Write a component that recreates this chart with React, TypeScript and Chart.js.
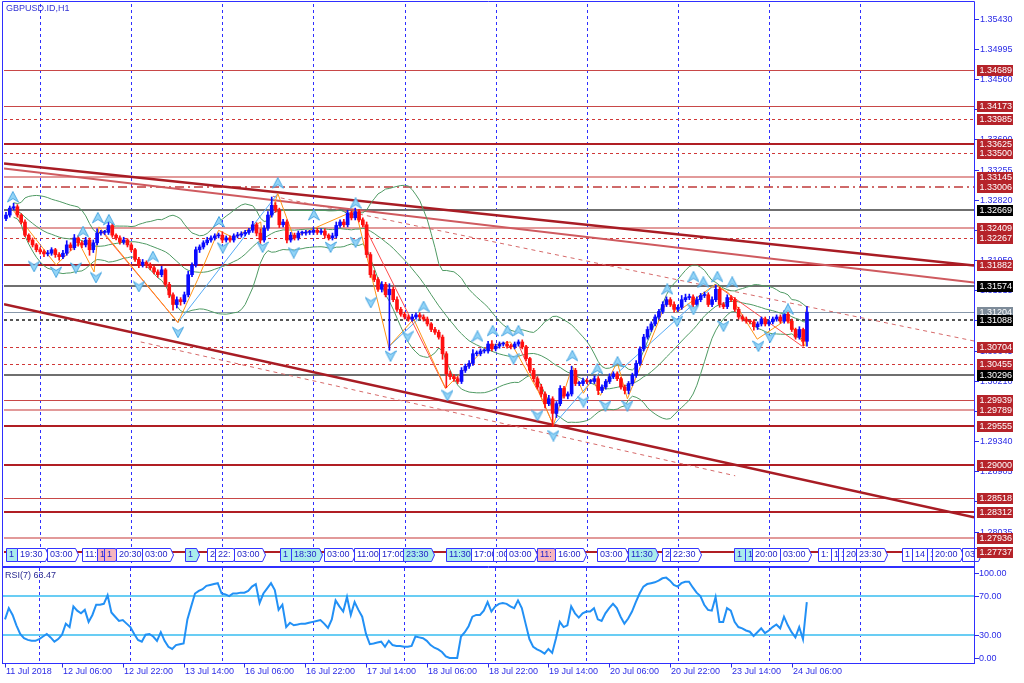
import React, { useEffect, useRef } from "react";
import { Chart, registerables } from "chart.js";

Chart.register(...registerables);

// ---------------- DATA ----------------
const symbolLabel = "GBPUSD.ID,H1";
const rsiLabel = "RSI(7) 63.47";
const BASE_PRICE = 1.3; // closes etc. are in pips above 1.30000
const FIRST_OPEN = 255;

const closes = [
  260, 270, 272, 260, 250, 231, 224, 217, 210, 207,
  204, 205, 210, 203, 200, 205, 217, 213, 227, 220,
  217, 224, 210, 220, 234, 235, 235, 245, 231, 227,
  221, 224, 217, 210, 196, 188, 192, 188, 184, 178,
  174, 181, 160, 145, 131, 138, 135, 145, 174, 188,
  210, 214, 220, 224, 227, 230, 231, 224, 227, 224,
  230, 231, 233, 235, 238, 246, 234, 224, 241, 260,
  274, 267, 246, 250, 224, 231, 227, 234, 234, 235,
  235, 238, 235, 237, 231, 227, 230, 245, 250, 246,
  263, 256, 265, 253, 246, 203, 174, 167, 153, 160,
  145, 153, 138, 124, 117, 113, 110, 113, 116, 113,
  110, 103, 95, 91, 84, 60, 31, 27, 24, 20,
  36, 42, 46, 60, 60, 64, 64, 74, 67, 71,
  74, 74, 71, 70, 74, 77, 70, 53, 36, 24,
  12, 2, -12, -5, -26, -12, 10, -1, 2, 36,
  17, 17, 21, 20, 20, 24, 7, 12, 20, 27,
  31, 24, 12, 7, 17, 29, 46, 67, 84, 95,
  103, 113, 121, 131, 138, 131, 124, 127, 138, 141,
  142, 131, 138, 144, 145, 131, 138, 153, 131, 128,
  141, 138, 124, 113, 110, 107, 106, 99, 103, 110,
  103, 106, 110, 113, 107, 117, 107, 95, 84, 95,
  78, 120,
];

const wickUp = [
  4, 3, 5, 3, 2, 3, 2, 3, 2, 3,
  3, 4, 3, 2, 3, 4, 6, 3, 5, 3,
  3, 4, 3, 4, 6, 3, 3, 5, 3, 2,
  3, 4, 2, 3, 2, 3, 4, 2, 3, 2,
  3, 5, 2, 3, 3, 4, 3, 4, 5, 3,
  4, 3, 3, 4, 3, 3, 3, 5, 3, 3,
  3, 4, 3, 3, 3, 5, 3, 6, 4, 5,
  12, 4, 3, 4, 3, 4, 3, 3, 3, 3,
  3, 4, 3, 3, 3, 2, 4, 5, 3, 4,
  4, 3, 5, 3, 3, 4, 3, 6, 3, 4,
  3, 8, 3, 4, 3, 3, 3, 4, 3, 3,
  3, 3, 2, 3, 3, 3, 3, 4, 3, 3,
  4, 3, 4, 6, 4, 3, 3, 4, 5, 3,
  3, 3, 4, 3, 3, 3, 3, 2, 2, 3,
  3, 4, 3, 5, 3, 3, 4, 3, 3, 6,
  3, 3, 4, 3, 3, 4, 3, 3, 3, 4,
  3, 3, 2, 3, 3, 3, 4, 3, 4, 4,
  3, 3, 3, 4, 4, 3, 4, 3, 6, 5,
  4, 3, 4, 3, 4, 3, 4, 6, 3, 3,
  4, 3, 3, 3, 3, 3, 2, 3, 3, 3,
  3, 3, 3, 3, 3, 5, 3, 3, 2, 4,
  2, 8,
];

const wickDown = [
  3, 3, 3, 3, 3, 2, 3, 3, 3, 3,
  4, 3, 3, 4, 5, 3, 3, 4, 3, 5,
  4, 3, 8, 4, 3, 3, 3, 3, 3, 3,
  3, 3, 3, 3, 3, 4, 3, 4, 3, 3,
  4, 3, 3, 4, 8, 5, 5, 3, 3, 3,
  3, 4, 3, 3, 3, 3, 3, 4, 3, 3,
  3, 3, 3, 3, 3, 3, 4, 5, 3, 3,
  3, 3, 4, 3, 4, 3, 3, 3, 3, 3,
  3, 3, 3, 3, 4, 3, 3, 3, 3, 3,
  3, 3, 3, 3, 3, 4, 4, 3, 3, 4,
  3, 80, 3, 3, 3, 3, 3, 3, 3, 3,
  3, 3, 3, 3, 3, 8, 20, 4, 4, 3,
  3, 3, 3, 3, 3, 3, 3, 3, 3, 3,
  3, 3, 3, 3, 3, 3, 3, 3, 3, 4,
  3, 4, 6, 3, 19, 6, 3, 3, 4, 3,
  3, 3, 3, 3, 3, 3, 6, 3, 3, 3,
  3, 3, 3, 5, 5, 3, 3, 3, 3, 3,
  3, 3, 3, 3, 3, 3, 4, 3, 3, 3,
  3, 3, 3, 3, 3, 3, 3, 3, 4, 3,
  3, 3, 3, 3, 3, 3, 3, 5, 4, 3,
  3, 3, 3, 3, 3, 3, 3, 3, 3, 3,
  7, 7,
];

const rsiValues = [
  45.8, 57.3, 50.3, 39.7, 30.8, 26.4, 24.7, 23.8, 23.8, 25.6,
  28.2, 30.8, 27.3, 22.9, 25.6, 30, 41.4, 37.9, 59.1, 54.7,
  52, 55.5, 43.2, 50.3, 60.8, 60.8, 61.7, 70.5, 52.9, 48.5,
  44.1, 45, 41.4, 37.9, 30.8, 24.7, 22.9, 30, 30.8, 28.2,
  23.8, 32.6, 23.8, 17.6, 15.4, 19.4, 20.3, 21.1, 45.8, 59.1,
  72.3, 75, 76.7, 80.2, 81.1, 82, 82.9, 72.3, 71.4, 69.7,
  72.3, 72.3, 73.2, 73.2, 75, 79.4, 82, 62.6, 72.3, 77.6,
  82.9, 75.8, 55.5, 60.8, 37.9, 42.3, 39.7, 40.5, 41.4, 41.4,
  42.3, 43.2, 44.1, 45, 41.4, 37, 45.8, 65.2, 59.1, 53.8,
  68.8, 50.3, 63.5, 55.5, 48.5, 30.8, 20.3, 21.1, 22, 22.9,
  17.6, 23.8, 19.4, 18.5, 18.5, 17.6, 17.6, 18.5, 28.2, 27.3,
  26.4, 23.8, 19.4, 16.7, 15, 12.3, 7.9, 6.2, 6.2, 6.2,
  28.2, 32.6, 38.8, 48.5, 50.3, 50.3, 54.7, 63.5, 53.8, 59.1,
  61.7, 62.6, 61.7, 59.1, 57.3, 65.2, 57.3, 41.4, 25.6, 17.6,
  15, 13.2, 10.6, 15.4, 11.4, 26.4, 43.2, 37.9, 39.7, 59.1,
  52, 47.6, 52, 53.8, 53.8, 57.3, 45.8, 44.1, 52, 57.3,
  61.7, 57.3, 48.5, 41.4, 46.7, 53.8, 63.5, 72.3, 79.4, 82,
  82.9, 83.8, 85.5, 87.9, 88.6, 85.5, 81.1, 79.4, 82.9, 84.4,
  84.4, 78.5, 73.2, 69.7, 60.8, 55.5, 54.7, 68.8, 43.2, 43.2,
  57.3, 54.7, 43.2, 37.9, 36.6, 34.4, 33.1, 28.7, 32.6, 36.6,
  31.7, 34.4, 37.9, 40.5, 36.6, 48.5, 39.7, 32.6, 27.3, 37.9,
  25.3, 63.47,
];

const priceTicks = [
  1.3543, 1.34995, 1.3456, 1.34125, 1.3369, 1.33255, 1.3282, 1.32385, 1.3195,
  1.31515, 1.3108, 1.30645, 1.3021, 1.29775, 1.2934, 1.28905, 1.2847, 1.28035,
];
const rsiTicks = [100, 70, 30, 0];
const rsiLevels = [70, 30];

const timeTickIndex = [0, 15, 31, 47, 63, 79, 95, 111, 127, 143, 159, 175, 191, 207];
const timeTickLabels = [
  "11 Jul 2018", "12 Jul 06:00", "12 Jul 22:00", "13 Jul 14:00", "16 Jul 06:00",
  "16 Jul 22:00", "17 Jul 14:00", "18 Jul 06:00", "18 Jul 22:00", "19 Jul 14:00",
  "20 Jul 06:00", "20 Jul 22:00", "23 Jul 14:00", "24 Jul 06:00",
];
const dayGridIndex = [9, 33, 57, 81, 105, 129, 153, 177, 201, 225];

const levelPrices = [
  1.34689, 1.34173, 1.33985, 1.33625, 1.335, 1.33145, 1.33006, 1.32669, 1.32409,
  1.32267, 1.31882, 1.31574, 1.31204, 1.31088, 1.30704, 1.30455, 1.30296, 1.29939,
  1.29789, 1.29555, 1.29, 1.28518, 1.28312, 1.27936, 1.27737,
];
const levelKinds = [
  "thin", "thin", "dash", "thick", "dash", "pink", "dashdot", "gray", "pink",
  "dash", "thick", "gray", "bid", "blackdash", "dash", "dash", "gray", "thin",
  "pink", "thick", "thick", "thin", "thick", "pink", "thick",
];

// trend lines: [bar index, price]
const trendUpperMain = [[-0.53, 1.33343], [255, 1.31871]];
const trendUpperSecond = [[-0.53, 1.33271], [255, 1.31628]];
const trendUpperDashed = [[70.3, 1.32871], [255, 1.30784]];
const trendLowerMain = [[-0.53, 1.31313], [255, 1.2824]];
const trendLowerDashed = [[35.5, 1.3077], [192.1, 1.2884]];

// zigzags: [bar index, pips above 1.30000]
const zigOrange = [
  [1.3, 271], [13.2, 188], [19.2, 220], [23.2, 178], [24.5, 243], [45.3, 105], [50.5, 167],
  [56, 238], [60, 227], [67.1, 250], [67.6, 224], [71.6, 291], [75.8, 228], [92.1, 267],
  [100.8, 70], [107.4, 110], [115.8, 10], [126.8, 71], [132.9, 77], [140.3, 5], [144.2, -43],
  [149.2, 42], [152.1, 3], [154.5, 24], [156.6, 0], [161, 48], [163.7, -5], [174.2, 138],
  [176.8, 120], [186.8, 160], [190.3, 148], [197.9, 81], [205.8, 110], [210.5, 71], [210.8, 124],
];
const zigRed = [
  [[25, 238], [45.3, 105]],
  [[92.6, 264], [115.8, 10]],
  [[134.7, 77], [144.2, -43]],
  [[186.8, 160], [209.7, 71]],
];
const zigBlue = [
  [[45.3, 105], [71.6, 291]],
  [[100.8, 70], [110, 117]],
  [[144.2, -43], [156.6, 35]],
  [[156.6, 10], [186.8, 160]],
];

// fractal arrows: [bar index, pips above 1.30000]
const fractalUp = [
  [1.8, 286], [20.3, 236], [24.2, 256], [27.1, 253], [38.7, 200], [56.1, 250], [71.6, 306],
  [81.1, 260], [92.1, 277], [110, 128], [124.2, 85], [128.2, 93], [132.1, 93], [135, 93],
  [149.2, 57], [155.8, 38], [161.1, 48], [174.2, 153], [181.1, 171], [183.7, 163], [187.4, 171],
  [191.3, 163], [206, 124],
];
const fractalDown = [
  [7.4, 186], [13.2, 178], [18.4, 184], [23.7, 170], [35, 157], [45.3, 91], [57.1, 213],
  [67.6, 214], [75.8, 206], [85.5, 214], [92.1, 221], [96.1, 134], [101.3, 57], [105.8, 85],
  [116.3, 0], [133.7, 53], [140, -29], [144.2, -58], [152.1, -9], [157.9, -15], [163.7, -15],
  [176.8, 107], [181.1, 124], [189, 100], [198.2, 71], [201.3, 84],
];

// vertical-line object tags along the bottom of the price window: [bar index, text, fill]
const stripTags: [number, string, string][] = [
  [0, "1", "c"], [2.9, "19:30", ""], [10.8, "03:00", ""], [20, "11:", ""], [23.9, "1", "p"],
  [25.8, "1", "p"], [28.9, "20:30", ""], [35.8, "03:00", ""], [47.1, "1", "c"], [52.9, "2", ""],
  [55, "22:", ""], [60, "03:00", ""], [72.1, "1", "c"], [75, "18:30", "c"], [83.9, "03:00", ""],
  [91.8, "11:00", ""], [98.2, "17:00", ""], [104.5, "23:30", "c"], [116, "11:30", "c"],
  [122.4, "17:00", ""], [128.2, ":00", ""], [131.6, "03:00", ""], [140, "11:", "p"],
  [144.7, "16:00", ""], [155.8, "03:00", ""], [163.9, "11:30", "c"], [172.9, "2", ""],
  [175, "22:30", ""], [191.8, "1", "c"], [194.7, "1", "c"], [196.6, "20:00", ""],
  [203.9, "03:00", ""], [213.9, "1:", ""], [217.4, "1", ""], [219.2, "1", ""], [220.5, "20", ""],
  [223.9, "23:30", ""], [236, "1", ""], [238.7, "14", ""], [242.6, "1", ""], [243.9, "20:00", ""],
  [251.8, "03", ""],
];

// ---------------- STYLE / LAYOUT ----------------
const X_MIN = -0.526;
const X_MAX = 255.0;
const P_MIN = 1.27582;
const P_MAX = 1.35644;
const RSI_MIN = 1.03;
const RSI_MAX = 98.46;

const AXIS_BLUE = "#2b2be6";
const FRAME_BLUE = "#2f2fff";
const UP_COLOR = "#0a0aff";
const DOWN_COLOR = "#ff1010";
const FONT = '9px "Liberation Sans", Arial, sans-serif';

const LEVEL_STYLES: Record<string, { color: string; width: number; dash: number[]; label: string }> = {
  thick: { color: "#b01e24", width: 2, dash: [], label: "#b5232a" },
  thin: { color: "#c84848", width: 1, dash: [], label: "#b5232a" },
  pink: { color: "#e29a9a", width: 2, dash: [], label: "#b5232a" },
  dash: { color: "#d03838", width: 1, dash: [3, 3], label: "#b5232a" },
  dashdot: { color: "#c03a3a", width: 1.5, dash: [9, 4, 2, 4], label: "#b5232a" },
  gray: { color: "#6f6f6f", width: 2, dash: [], label: "#000000" },
  bid: { color: "#8898aa", width: 1, dash: [], label: "#7d8b99" },
  blackdash: { color: "#555555", width: 2, dash: [3, 3], label: "#000000" },
};

const px = (v: number) => BASE_PRICE + v / 10000;

function bollinger(values: number[], period: number, dev: number) {
  const mid: { x: number; y: number }[] = [];
  const up: { x: number; y: number }[] = [];
  const lo: { x: number; y: number }[] = [];
  values.forEach((_, i) => {
    if (i < 2) return;
    const w = values.slice(Math.max(0, i - period + 1), i + 1);
    const m = w.reduce((s, v) => s + v, 0) / w.length;
    const sd = Math.sqrt(w.reduce((s, v) => s + (v - m) * (v - m), 0) / w.length);
    mid.push({ x: i, y: m });
    up.push({ x: i, y: m + dev * sd });
    lo.push({ x: i, y: m - dev * sd });
  });
  return { mid, up, lo };
}

function segments(list: number[][][]) {
  const out: { x: number; y: number | null }[] = [];
  list.forEach((seg) => {
    seg.forEach(([i, v]) => out.push({ x: i, y: px(v) }));
    out.push({ x: seg[seg.length - 1][0], y: null });
  });
  return out;
}

function makeArrow(up: boolean) {
  const c = document.createElement("canvas");
  c.width = 12;
  c.height = 12;
  const g = c.getContext("2d")!;
  g.beginPath();
  if (up) {
    g.moveTo(6, 0.5);
    g.lineTo(11.5, 11);
    g.lineTo(6, 7.5);
    g.lineTo(0.5, 11);
  } else {
    g.moveTo(6, 11.5);
    g.lineTo(11.5, 1);
    g.lineTo(6, 4.5);
    g.lineTo(0.5, 1);
  }
  g.closePath();
  g.fillStyle = "#93d4f6";
  g.fill();
  g.strokeStyle = "#49a6e2";
  g.lineWidth = 1;
  g.stroke();
  return c;
}

function hline(ctx: CanvasRenderingContext2D, x1: number, x2: number, y: number) {
  ctx.beginPath();
  ctx.moveTo(x1, y);
  ctx.lineTo(x2, y);
  ctx.stroke();
}
function vline(ctx: CanvasRenderingContext2D, x: number, y1: number, y2: number) {
  ctx.beginPath();
  ctx.moveTo(x, y1);
  ctx.lineTo(x, y2);
  ctx.stroke();
}

const mainDecor = {
  id: "mainDecor",
  beforeDatasetsDraw(chart: any) {
    const { ctx, chartArea: a, scales } = chart;
    const x = scales.x;
    const y = scales.y;
    ctx.save();
    ctx.strokeStyle = FRAME_BLUE;
    ctx.lineWidth = 1;
    ctx.setLineDash([3, 3]);
    dayGridIndex.forEach((i) => {
      const xp = Math.round(x.getPixelForValue(i)) + 0.5;
      vline(ctx, xp, a.top, a.bottom);
    });
    levelPrices.forEach((p, k) => {
      const st = LEVEL_STYLES[levelKinds[k]];
      ctx.strokeStyle = st.color;
      ctx.lineWidth = st.width;
      ctx.setLineDash(st.dash);
      const yp = Math.round(y.getPixelForValue(p)) + (st.width % 2 === 1 ? 0.5 : 0);
      hline(ctx, a.left, a.right, yp);
    });
    ctx.restore();
  },
  afterDatasetsDraw(chart: any) {
    const { ctx, scales } = chart;
    const x = scales.x;
    ctx.save();
    ctx.font = FONT;
    ctx.textBaseline = "middle";
    const top = 548.5;
    const bot = 561.5;
    stripTags.forEach(([i, text, kind]) => {
      const x0 = Math.round(x.getPixelForValue(i)) + 0.5;
      const w = Math.ceil(ctx.measureText(text).width) + 5;
      ctx.beginPath();
      ctx.moveTo(x0, top);
      ctx.lineTo(x0 + w, top);
      ctx.lineTo(x0 + w + 3, (top + bot) / 2);
      ctx.lineTo(x0 + w, bot);
      ctx.lineTo(x0, bot);
      ctx.closePath();
      ctx.fillStyle = kind === "c" ? "#a9ecec" : kind === "p" ? "#f6b5be" : "#ffffff";
      ctx.fill();
      ctx.strokeStyle = "#3434ff";
      ctx.lineWidth = 1;
      ctx.stroke();
      ctx.fillStyle = "#2424c8";
      ctx.fillText(text, x0 + 2.5, 555);
    });
    ctx.restore();
  },
  afterDraw(chart: any) {
    const { ctx, chartArea: a, scales } = chart;
    const y = scales.y;
    ctx.save();
    ctx.strokeStyle = FRAME_BLUE;
    ctx.lineWidth = 1;
    ctx.setLineDash([]);
    vline(ctx, 2.5, 1.5, 567);
    hline(ctx, 2.5, a.right + 0.5, 1.5);
    hline(ctx, 2.5, a.right + 0.5, 566.5);
    vline(ctx, a.right + 0.5, 1.5, 567);
    ctx.font = FONT;
    ctx.textBaseline = "middle";
    ctx.textAlign = "left";
    priceTicks.forEach((p) => {
      const yp = Math.round(y.getPixelForValue(p)) + 0.5;
      ctx.strokeStyle = AXIS_BLUE;
      hline(ctx, a.right, a.right + 5, yp);
      ctx.fillStyle = AXIS_BLUE;
      ctx.fillText(p.toFixed(5), a.right + 6, yp);
    });
    levelPrices.forEach((p, k) => {
      const st = LEVEL_STYLES[levelKinds[k]];
      const yp = Math.round(y.getPixelForValue(p));
      ctx.fillStyle = st.label;
      ctx.fillRect(a.right + 3, yp - 5, 36, 11);
      ctx.fillStyle = "#ffffff";
      ctx.fillText(p.toFixed(5), a.right + 5.5, yp + 0.5);
    });
    ctx.fillStyle = "#3434d4";
    ctx.fillText(symbolLabel, 6, 9);
    ctx.restore();
  },
};

const rsiDecor = {
  id: "rsiDecor",
  beforeDatasetsDraw(chart: any) {
    const { ctx, chartArea: a, scales } = chart;
    const x = scales.x;
    const y = scales.y;
    ctx.save();
    ctx.strokeStyle = FRAME_BLUE;
    ctx.lineWidth = 1;
    ctx.setLineDash([3, 3]);
    dayGridIndex.forEach((i) => {
      const xp = Math.round(x.getPixelForValue(i)) + 0.5;
      vline(ctx, xp, a.top, a.bottom);
    });
    ctx.setLineDash([]);
    ctx.strokeStyle = "#69cdf4";
    ctx.lineWidth = 2;
    rsiLevels.forEach((v) => {
      hline(ctx, a.left, a.right, Math.round(y.getPixelForValue(v)));
    });
    ctx.restore();
  },
  afterDraw(chart: any) {
    const { ctx, chartArea: a, scales } = chart;
    const x = scales.x;
    const y = scales.y;
    ctx.save();
    ctx.strokeStyle = FRAME_BLUE;
    ctx.lineWidth = 1;
    vline(ctx, 2.5, 0, 97);
    hline(ctx, 2.5, a.right + 0.5, 0.5);
    hline(ctx, 2.5, a.right + 0.5, 96.5);
    vline(ctx, a.right + 0.5, 0, 97);
    ctx.font = FONT;
    ctx.textBaseline = "middle";
    ctx.textAlign = "left";
    ctx.fillStyle = AXIS_BLUE;
    ctx.strokeStyle = AXIS_BLUE;
    rsiTicks.forEach((v) => {
      let yp = y.getPixelForValue(v);
      yp = Math.min(Math.max(yp, a.top + 5), a.bottom - 5);
      yp = Math.round(yp) + 0.5;
      hline(ctx, a.right, a.right + 5, yp);
      ctx.fillText(v.toFixed(2), a.right + 5, yp);
    });
    timeTickIndex.forEach((i, k) => {
      const xp = Math.round(x.getPixelForValue(i)) + 0.5;
      vline(ctx, xp, 96.5, 100.5);
      ctx.fillText(timeTickLabels[k], Math.max(xp + 0.5, 3), 105);
    });
    ctx.fillStyle = "#2a2a92";
    ctx.fillText(rsiLabel, 5, 9);
    ctx.restore();
  },
};

export default function App() {
  const mainRef = useRef<HTMLCanvasElement>(null);
  const rsiRef = useRef<HTMLCanvasElement>(null);

  useEffect(() => {
    const opens = closes.map((c, i) => (i === 0 ? FIRST_OPEN : closes[i - 1]));
    const colors = closes.map((c, i) => (c >= opens[i] ? UP_COLOR : DOWN_COLOR));
    const bodies = closes.map((c, i) => ({ x: i, y: [px(opens[i]), px(c)] }));
    const wicks = closes.map((c, i) => ({
      x: i,
      y: [px(Math.min(opens[i], c) - wickDown[i]), px(Math.max(opens[i], c) + wickUp[i])],
    }));
    const bb = bollinger(closes.map(px), 20, 2);
    const arrowUp = makeArrow(true);
    const arrowDown = makeArrow(false);
    const line = (data: any[], color: string, width: number, dash: number[] = []) => ({
      type: "line" as const,
      data,
      borderColor: color,
      borderWidth: width,
      borderDash: dash,
      pointRadius: 0,
      pointBorderWidth: 0,
      tension: 0,
      spanGaps: false,
      fill: false,
    });
    const pts = (arr: number[][]) => arr.map(([i, p]) => ({ x: i, y: p }));

    const main = new Chart(mainRef.current!, {
      type: "line",
      data: {
        datasets: [
          {
            type: "line",
            data: fractalUp.map(([i, v]) => ({ x: i, y: px(v) })),
            showLine: false,
            pointStyle: arrowUp as any,
            pointRadius: 0.5,
            pointBorderWidth: 0,
          },
          {
            type: "line",
            data: fractalDown.map(([i, v]) => ({ x: i, y: px(v) })),
            showLine: false,
            pointStyle: arrowDown as any,
            pointRadius: 0.5,
            pointBorderWidth: 0,
          },
          {
            type: "bar",
            data: bodies as any,
            backgroundColor: colors,
            borderWidth: 0,
            barThickness: 3,
            grouped: false,
            minBarLength: 1,
          } as any,
          {
            type: "bar",
            data: wicks as any,
            backgroundColor: colors,
            borderWidth: 0,
            barThickness: 1,
            grouped: false,
          } as any,
          line(zigOrange.map(([i, v]) => ({ x: i, y: px(v) })), "#ff9416", 1),
          line(segments(zigRed), "#ff4a4a", 1),
          line(segments(zigBlue), "#55aaf5", 1),
          line(bb.up, "#4f9a63", 1),
          line(bb.mid, "#4f9a63", 1),
          line(bb.lo, "#4f9a63", 1),
          line(pts(trendUpperDashed), "#d66a6a", 1, [4, 4]),
          line(pts(trendLowerDashed), "#d66a6a", 1, [4, 4]),
          line(pts(trendUpperSecond), "#cf5a5f", 2),
          line(pts(trendUpperMain), "#a81c24", 2.5),
          line(pts(trendLowerMain), "#a81c24", 2.5),
        ] as any,
      },
      options: {
        animation: false,
        responsive: false,
        maintainAspectRatio: false,
        events: [],
        layout: { padding: { left: 3, right: 1024 - 974, top: 2, bottom: 1 } },
        plugins: { legend: { display: false }, tooltip: { enabled: false } },
        scales: {
          x: { type: "linear", display: false, min: X_MIN, max: X_MAX, offset: false },
          y: { type: "linear", display: false, min: P_MIN, max: P_MAX },
        },
      },
      plugins: [mainDecor],
    });

    const rsi = new Chart(rsiRef.current!, {
      type: "line",
      data: {
        datasets: [
          {
            data: rsiValues.map((v, i) => ({ x: i, y: v })),
            borderColor: "#2290f5",
            borderWidth: 2,
            pointRadius: 0,
            pointBorderWidth: 0,
            tension: 0,
          },
        ],
      },
      options: {
        animation: false,
        responsive: false,
        maintainAspectRatio: false,
        events: [],
        layout: { padding: { left: 3, right: 1024 - 974, top: 1, bottom: 20 } },
        plugins: { legend: { display: false }, tooltip: { enabled: false } },
        scales: {
          x: { type: "linear", display: false, min: X_MIN, max: X_MAX, offset: false },
          y: { type: "linear", display: false, min: RSI_MIN, max: RSI_MAX },
        },
      },
      plugins: [rsiDecor],
    });

    return () => {
      main.destroy();
      rsi.destroy();
    };
  }, []);

  return (
    <div style={{ position: "absolute", left: 0, top: 0, width: 1024, height: 683, background: "#ffffff" }}>
      <canvas
        ref={mainRef}
        width={1024}
        height={567}
        style={{ position: "absolute", left: 0, top: 0, width: 1024, height: 567 }}
      />
      <canvas
        ref={rsiRef}
        width={1024}
        height={116}
        style={{ position: "absolute", left: 0, top: 567, width: 1024, height: 116 }}
      />
    </div>
  );
}
